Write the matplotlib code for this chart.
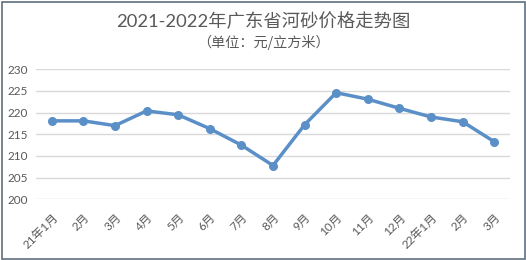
import matplotlib
matplotlib.use("Agg")
import matplotlib.pyplot as plt
from matplotlib.patches import Rectangle

plt.rcParams['font.family'] = ['Lato', 'Noto Sans CJK SC', 'DejaVu Sans']

months = ["21年1月", "2月", "3月", "4月", "5月", "6月", "7月", "8月", "9月",
          "10月", "11月", "12月", "22年1月", "2月", "3月"]
prices = [218.1, 218.1, 217.0, 220.4, 219.5, 216.3, 212.5, 207.8, 217.2,
          224.6, 223.1, 221.0, 219.0, 217.9, 213.3]
yticks = [200, 205, 210, 215, 220, 225, 230]

title = "2021-2022年广东省河砂价格走势图"
subtitle = "（单位：元/立方米）"

W, H = 526, 260
fig = plt.figure(figsize=(W / 100, H / 100), dpi=100)
ax = fig.add_axes([36 / W, 1 - 199.3 / H, (510 - 36) / W, 130 / H])

x = list(range(len(months)))
ax.plot(x, prices, color="#5B8FC7", linewidth=2.5, marker="o", markersize=6.5,
        markeredgewidth=0, zorder=3)

ax.set_xlim(-0.5, len(months) - 0.5)
ax.set_ylim(200, 230)
ax.set_yticks(yticks)
ax.set_xticks(x)
ax.set_xticklabels(months, rotation=45, ha="right", rotation_mode="anchor")
ax.grid(axis="y", color="#D9D9D9", linewidth=1)
ax.set_axisbelow(True)
for s in ax.spines.values():
    s.set_visible(False)
ax.tick_params(axis="both", length=0, labelsize=8.5, labelcolor="#595959")
ax.tick_params(axis="y", pad=6)
ax.tick_params(axis="x", pad=9)

fig.text(0.5, 1 - 21 / H, title, ha="center", va="center", fontsize=13.2, color="#595959")
fig.text(0.5, 1 - 42 / H, subtitle, ha="center", va="center", fontsize=10.2,
         color="#595959", family=['Noto Sans CJK SC', 'DejaVu Sans'])

fig.patches.append(Rectangle((1.5 / W, 1.5 / H), 1 - 3 / W, 1 - 3 / H,
                             transform=fig.transFigure, fill=False,
                             edgecolor="#5F7080", linewidth=1.2))

fig.savefig("out.png", dpi=100)
